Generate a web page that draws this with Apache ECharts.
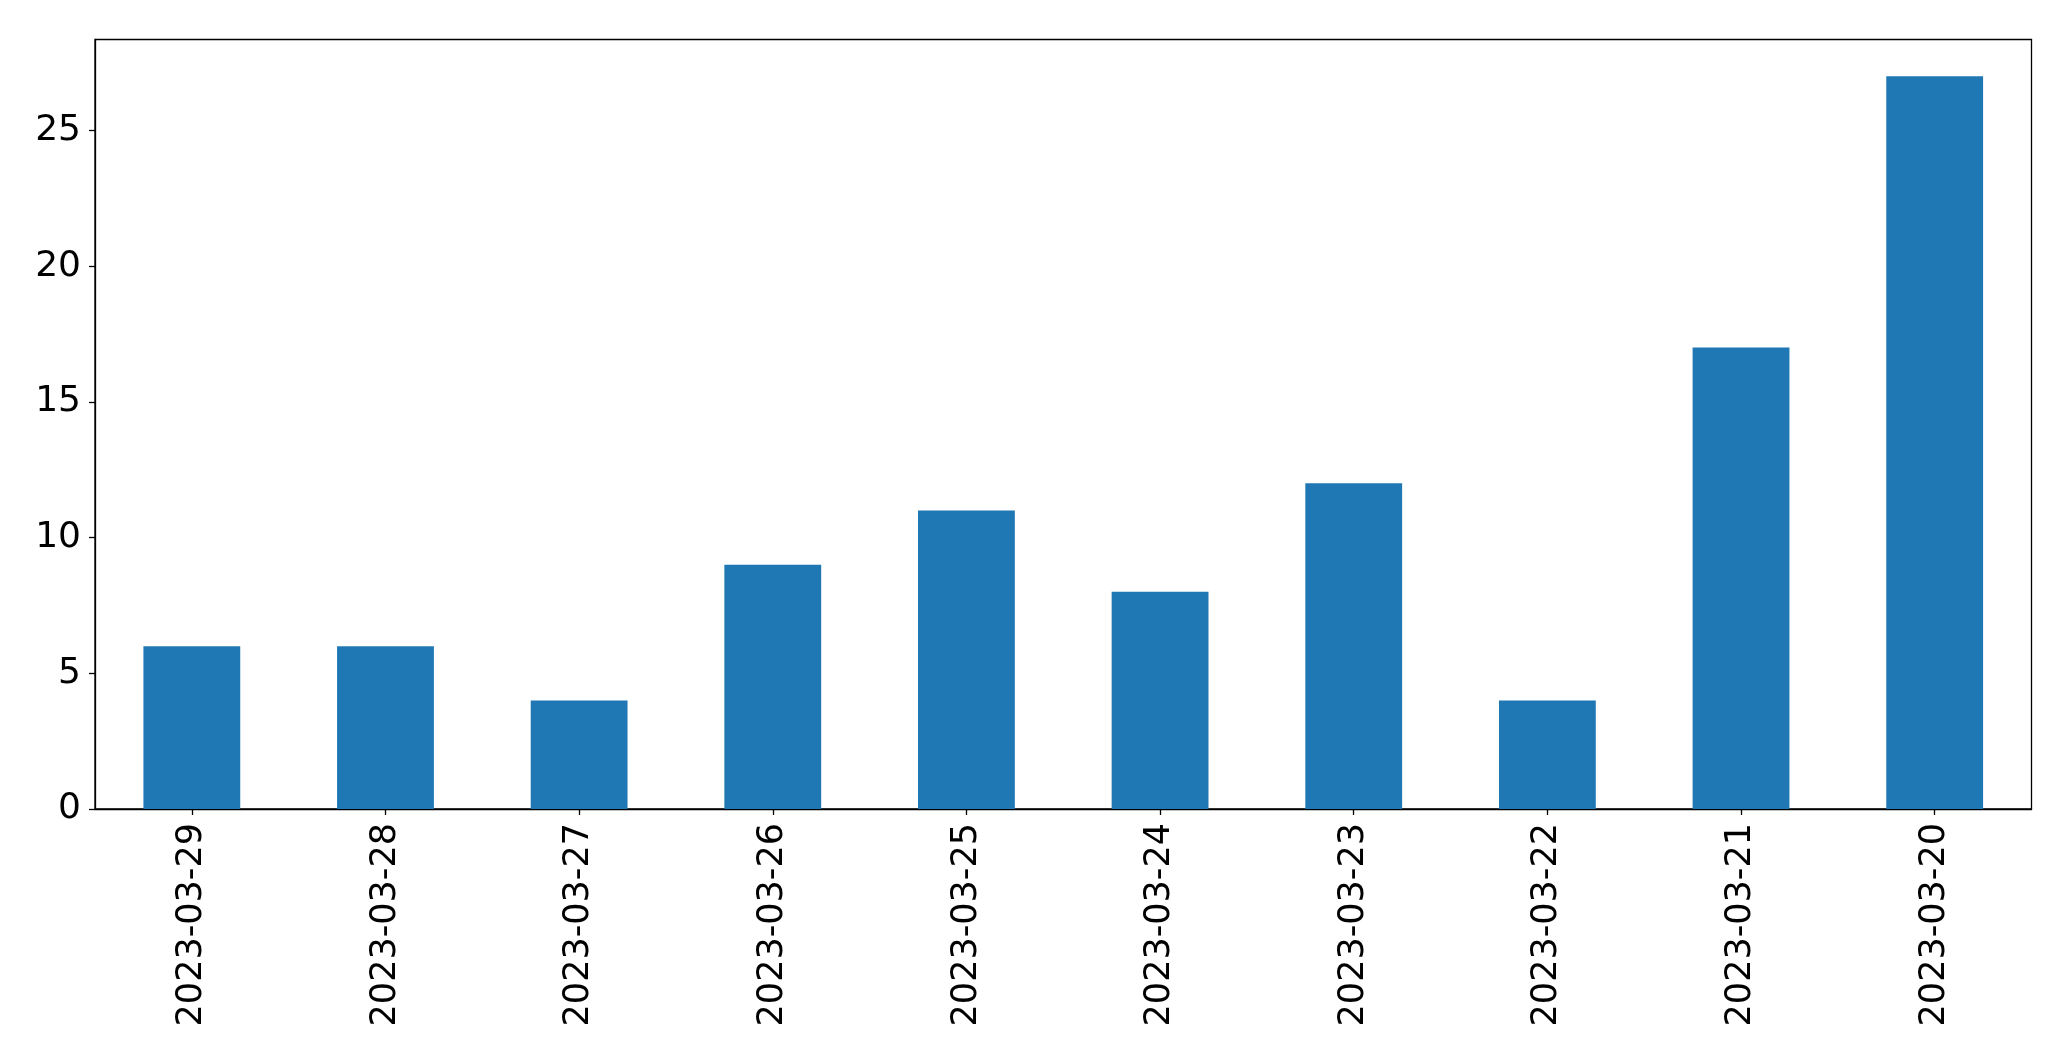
<!DOCTYPE html>
<html>
<head>
<meta charset="utf-8">
<script src="https://cdn.jsdelivr.net/npm/echarts@6/dist/echarts.min.js"></script>
<style>
html,body{margin:0;padding:0;background:#fff;}
#chart{width:2071px;height:1061px;}
</style>
</head>
<body>
<div id="chart"></div>
<script>
const categories = ["2023-03-29","2023-03-28","2023-03-27","2023-03-26","2023-03-25","2023-03-24","2023-03-23","2023-03-22","2023-03-21","2023-03-20"];
const values = [6, 6, 4, 9, 11, 8, 12, 4, 17, 27];
const yTicks = [0, 5, 10, 15, 20, 25];

const chart = echarts.init(document.getElementById('chart'), null, {renderer: 'canvas'});
const font = 'DejaVu Sans';
chart.setOption({
  animation: false,
  backgroundColor: '#ffffff',
  grid: {
    left: 95, right: 39.5, top: 39.5, bottom: 252,
    show: true, borderColor: '#000', borderWidth: 1.3, backgroundColor: 'transparent'
  },
  xAxis: {
    type: 'category',
    data: categories,
    boundaryGap: true,
    axisLine: {show: true, lineStyle: {color: '#000', width: 1.3}},
    axisTick: {show: true, alignWithLabel: true, length: 6, lineStyle: {color: '#000', width: 1.3}},
    axisLabel: {rotate: 90, margin: 14, color: '#000', fontFamily: font, fontSize: 35, interval: 0},
    splitLine: {show: false}
  },
  yAxis: {
    type: 'value',
    min: 0,
    max: 28.35,
    interval: 5,
    axisLine: {show: true, lineStyle: {color: '#000', width: 1.3}},
    axisTick: {show: true, length: 6, lineStyle: {color: '#000', width: 1.3}},
    axisLabel: {
      margin: 14, color: '#000', fontFamily: font, fontSize: 36, showMaxLabel: false,
      formatter: function (v) { return yTicks.indexOf(v) >= 0 ? String(v) : ''; }
    },
    splitLine: {show: false}
  },
  series: [{
    type: 'bar',
    data: values,
    barWidth: '50%',
    itemStyle: {color: '#1f77b4'}
  }]
});
</script>
</body>
</html>
